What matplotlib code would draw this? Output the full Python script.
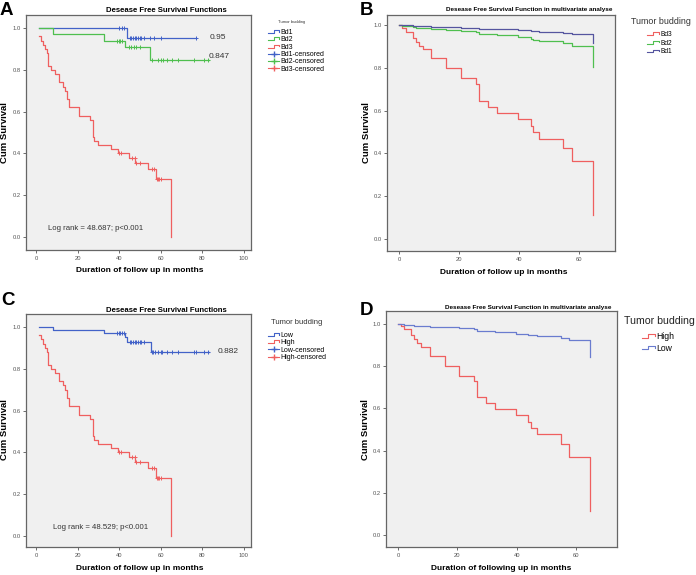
import numpy as np
import matplotlib
matplotlib.use('Agg')
import matplotlib.pyplot as plt
from matplotlib.lines import Line2D
from matplotlib.legend_handler import HandlerBase

plt.rcParams['font.family'] = ['Liberation Sans', 'DejaVu Sans']

# ---- Panel A: Kaplan-Meier by budding grade
a_bd1_t = [1.3, 43.7, 77.0]
a_bd1_s = [1.0, 0.95, 0.95]
a_bd1_cens = [40.0, 41.6, 42.4, 45.1, 45.9, 46.7, 47.5, 48.3, 49.1, 49.9, 50.7,
              52.0, 54.7, 56.6, 60.0, 76.8]
a_bd2_t = [1.3, 8.0, 32.8, 42.9, 55.0, 83.0]
a_bd2_s = [1.0, 0.971, 0.94, 0.907, 0.847, 0.847]
a_bd2_cens = [39.0, 39.8, 40.6, 41.3, 44.8, 45.9, 47.0, 48.3, 49.9, 55.6, 58.8,
              60.0, 61.2, 62.8, 65.2, 68.1, 76.0, 80.8, 82.9]
bd3_t = [1.3, 2.4, 3.5, 4.3, 5.1, 5.9, 7.2, 9.3, 11.2, 12.8, 13.9, 14.9, 16.0,
         20.8, 26.1, 27.2, 28.0, 29.6, 36.0, 39.3, 44.9, 47.6, 54.0, 57.7, 64.9]
bd3_s = [0.96, 0.94, 0.92, 0.90, 0.88, 0.82, 0.80, 0.78, 0.74, 0.72, 0.70, 0.66,
         0.62, 0.58, 0.56, 0.48, 0.46, 0.44, 0.42, 0.40, 0.38, 0.355, 0.325,
         0.276, 0.0]
bd3_cens = [40.0, 40.8, 46.0, 47.4, 48.2, 50.0, 55.6, 56.9, 58.0, 58.6, 59.2, 60.0]

# ---- Panel C: Kaplan-Meier low vs high
c_low_t = [1.3, 8.0, 32.8, 42.8, 44.0, 55.3, 83.0]
c_low_s = [1.0, 0.985, 0.97, 0.95, 0.93, 0.882, 0.882]
c_low_cens = [39.0, 39.8, 40.6, 41.4, 42.2, 45.1, 45.9, 46.7, 47.5, 48.3, 49.1,
              49.9, 50.7, 51.9, 55.6, 56.5, 57.3, 58.8, 60.0, 60.8, 62.8, 65.2,
              68.1, 76.0, 76.9, 80.8, 82.9]
c_high_t = bd3_t
c_high_s = bd3_s
c_high_cens = bd3_cens

# ---- Panel B / D: multivariate (Cox) curves, common step times
cox_t = [0, 1.0, 2.2, 4.5, 5.5, 6.6, 7.9, 10.8, 15.8, 20.7, 25.8, 26.6, 29.7,
         32.7, 39.8, 43.9, 44.8, 46.8, 54.8, 57.8, 64.8]
b_bd3 = [1.0, 0.984, 0.966, 0.941, 0.922, 0.903, 0.886, 0.844, 0.798, 0.751,
         0.723, 0.645, 0.618, 0.587, 0.559, 0.528, 0.498, 0.466, 0.424, 0.364, 0.11]
b_bd2 = [1.0, 0.997, 0.994, 0.99, 0.988, 0.986, 0.984, 0.98, 0.976, 0.972,
         0.968, 0.96, 0.956, 0.953, 0.944, 0.935, 0.932, 0.927, 0.917, 0.903, 0.802]
b_bd1 = [1.0, 0.999, 0.998, 0.997, 0.996, 0.995, 0.994, 0.993, 0.99, 0.988,
         0.986, 0.983, 0.982, 0.981, 0.977, 0.974, 0.972, 0.968, 0.962, 0.958, 0.914]
d_high = [1.0, 0.99, 0.975, 0.947, 0.93, 0.91, 0.89, 0.849, 0.80, 0.756, 0.732,
          0.652, 0.625, 0.597, 0.567, 0.538, 0.507, 0.477, 0.433, 0.37, 0.113]
d_low = [1.0, 0.998, 0.996, 0.994, 0.993, 0.992, 0.99, 0.988, 0.985, 0.98,
         0.976, 0.968, 0.965, 0.961, 0.955, 0.95, 0.946, 0.942, 0.935, 0.923, 0.845]

RED = '#ef5f5f'
GREEN = '#4fbf4f'
BLUE = '#4262c8'
NAVY = '#55559f'
LBLUE = '#6a7ccf'
BG = '#f0f0f0'

W, H = 696, 575
fig = plt.figure(figsize=(W / 100, H / 100), dpi=100)


def px_axes(left, top, right, bottom):
    return fig.add_axes([left / W, 1 - bottom / H, (right - left) / W, (bottom - top) / H])


def ftext(x, y, s, **kw):
    fig.text(x / W, 1 - y / H, s, **kw)


def step_value(ts, ss, t):
    idx = np.searchsorted(ts, t, side='right') - 1
    return np.asarray(ss)[idx]


class StepHandler(HandlerBase):
    # SPSS style step-shaped legend key
    def create_artists(self, legend, orig_handle, xdescent, ydescent, width, height, fontsize, trans):
        x0 = -xdescent
        lo = -ydescent + height * 0.2
        hi = -ydescent + height * 0.8
        xs = [x0, x0 + width * 0.5, x0 + width * 0.5, x0 + width, x0 + width]
        ys = [lo, lo, hi, hi, hi - height * 0.3]
        ln = Line2D(xs, ys, color=orig_handle.get_color(), lw=0.8)
        ln.set_transform(trans)
        return [ln]


def style_axes(ax, xlim, ylim, xticks):
    ax.set_facecolor(BG)
    ax.set_xlim(*xlim)
    ax.set_ylim(*ylim)
    ax.set_xticks(xticks)
    ax.set_yticks([0, 0.2, 0.4, 0.6, 0.8, 1.0])
    ax.set_yticklabels(['%.1f' % v for v in [0, 0.2, 0.4, 0.6, 0.8, 1.0]])
    ax.tick_params(labelsize=4.2, length=2.5, width=0.6, colors='#555555', pad=1.5)
    for sp in ax.spines.values():
        sp.set_color('#666666')
        sp.set_linewidth(0.9)


def km(ax, t, s, cens, color):
    ax.plot(t, s, drawstyle='steps-post', color=color, lw=0.9)
    ax.plot(cens, step_value(t, s, cens), '+', color=color, ms=3.5, mew=0.7, ls='none')


# ---------------- Panel A
axA = px_axes(26, 15, 251, 250)
style_axes(axA, (-4.8, 103.4), (-0.062, 1.062), [0, 20, 40, 60, 80, 100])
km(axA, a_bd1_t, a_bd1_s, a_bd1_cens, BLUE)
km(axA, a_bd2_t, a_bd2_s, a_bd2_cens, GREEN)
km(axA, bd3_t, bd3_s, bd3_cens, RED)
axA.text(83.5, 0.955, '0.95', fontsize=6, color='#333333', va='center')
axA.text(83.0, 0.865, '0.847', fontsize=6, color='#333333', va='center')
axA.text(6, 0.04, 'Log rank = 48.687; p<0.001', fontsize=5.6, color='#333333', va='center')

hA = [Line2D([], [], color=BLUE), Line2D([], [], color=GREEN), Line2D([], [], color=RED),
      Line2D([], [], color=BLUE, marker='+', ms=4, lw=0.8),
      Line2D([], [], color=GREEN, marker='+', ms=4, lw=0.8),
      Line2D([], [], color=RED, marker='+', ms=4, lw=0.8)]
labA = ['Bd1', 'Bd2', 'Bd3', 'Bd1-censored', 'Bd2-censored', 'Bd3-censored']
fig.legend(hA, labA, loc='upper left', bbox_to_anchor=(268 / W, 1 - 29 / H), frameon=False,
           fontsize=5, handlelength=1.6, handletextpad=0.2, labelspacing=0.05, numpoints=1,
           borderaxespad=0, borderpad=0,
           handler_map={hA[0]: StepHandler(), hA[1]: StepHandler(), hA[2]: StepHandler()})
ftext(292, 22, 'Tumor budding', fontsize=3, color='#333333', ha='center', va='center')

ftext(166, 10, 'Desease Free Survival Functions', fontsize=5.6, fontweight='bold', ha='center', va='center')
ftext(140, 270, 'Duration of follow up in months', fontsize=6.0, fontweight='bold', ha='center', va='center')
ftext(5, 133, 'Cum Survival', fontsize=6.8, fontweight='bold', rotation=90, ha='center', va='center')
ftext(0, 15, 'A', fontsize=13.5, fontweight='bold', ha='left', va='baseline')

# ---------------- Panel B
axB = px_axes(387, 15, 615, 251)
style_axes(axB, (-4, 72), (-0.056, 1.047), [0, 20, 40, 60])
axB.plot(cox_t, b_bd3, drawstyle='steps-post', color=RED, lw=0.9)
axB.plot(cox_t, b_bd2, drawstyle='steps-post', color=GREEN, lw=0.9)
axB.plot(cox_t, b_bd1, drawstyle='steps-post', color=NAVY, lw=0.9)
hB = [Line2D([], [], color=RED), Line2D([], [], color=GREEN), Line2D([], [], color=NAVY)]
fig.legend(hB, ['Bd3', 'Bd2', 'Bd1'], loc='upper left', bbox_to_anchor=(647 / W, 1 - 31 / H),
           frameon=False, fontsize=4.8, handlelength=1.8, handletextpad=0.2, labelspacing=0.25,
           borderaxespad=0, borderpad=0, handler_map={h: StepHandler() for h in hB})
ftext(661, 22, 'Tumor budding', fontsize=6.4, color='#333333', ha='center', va='center')
ftext(529, 9, 'Desease Free Survival Function in multivariate analyse', fontsize=4.6,
      fontweight='bold', ha='center', va='center')
ftext(504, 272, 'Duration of follow up in months', fontsize=6.0, fontweight='bold', ha='center', va='center')
ftext(367, 133, 'Cum Survival', fontsize=6.8, fontweight='bold', rotation=90, ha='center', va='center')
ftext(360, 15, 'B', fontsize=13.5, fontweight='bold', ha='left', va='baseline')

# ---------------- Panel C
axC = px_axes(26, 314, 251, 547)
style_axes(axC, (-4.8, 103.4), (-0.053, 1.062), [0, 20, 40, 60, 80, 100])
km(axC, c_low_t, c_low_s, c_low_cens, BLUE)
km(axC, c_high_t, c_high_s, c_high_cens, RED)
axC.text(87.5, 0.882, '0.882', fontsize=6, color='#333333', va='center')
axC.text(8.2, 0.04, 'Log rank = 48.529; p<0.001', fontsize=5.6, color='#333333', va='center')
hC = [Line2D([], [], color=BLUE), Line2D([], [], color=RED),
      Line2D([], [], color=BLUE, marker='+', ms=4, lw=0.8),
      Line2D([], [], color=RED, marker='+', ms=4, lw=0.8)]
fig.legend(hC, ['Low', 'High', 'Low-censored', 'High-censored'], loc='upper left',
           bbox_to_anchor=(268 / W, 1 - 332 / H), frameon=False, fontsize=5, handlelength=1.6,
           handletextpad=0.2, labelspacing=0.05, numpoints=1, borderaxespad=0, borderpad=0,
           handler_map={hC[0]: StepHandler(), hC[1]: StepHandler()})
ftext(297, 323, 'Tumor budding', fontsize=5.5, color='#333333', ha='center', va='center')
ftext(166, 310, 'Desease Free Survival Functions', fontsize=5.6, fontweight='bold', ha='center', va='center')
ftext(140, 569, 'Duration of follow up in months', fontsize=6.0, fontweight='bold', ha='center', va='center')
ftext(5, 430, 'Cum Survival', fontsize=6.8, fontweight='bold', rotation=90, ha='center', va='center')
ftext(1, 305, 'C', fontsize=13.5, fontweight='bold', ha='left', va='baseline')

# ---------------- Panel D
axD = px_axes(386, 311, 617, 547)
style_axes(axD, (-4.0, 73.8), (-0.057, 1.062), [0, 20, 40, 60])
axD.plot(cox_t, d_high, drawstyle='steps-post', color=RED, lw=0.9)
axD.plot(cox_t, d_low, drawstyle='steps-post', color=LBLUE, lw=0.9)
hD = [Line2D([], [], color=RED), Line2D([], [], color=LBLUE)]
fig.legend(hD, ['High', 'Low'], loc='upper left', bbox_to_anchor=(642 / W, 1 - 332 / H),
           frameon=False, fontsize=6.2, handlelength=1.5, handletextpad=0.15, labelspacing=0.3,
           borderaxespad=0, borderpad=0, handler_map={h: StepHandler() for h in hD})
ftext(659, 321, 'Tumor budding', fontsize=7.6, color='#222222', ha='center', va='center')
ftext(528, 308, 'Desease Free Survival Function in multivariate analyse', fontsize=4.6,
      fontweight='bold', ha='center', va='center')
ftext(501, 569, 'Duration of following up in months', fontsize=6.0, fontweight='bold', ha='center', va='center')
ftext(366, 430, 'Cum Survival', fontsize=6.8, fontweight='bold', rotation=90, ha='center', va='center')
ftext(360, 315, 'D', fontsize=13.5, fontweight='bold', ha='left', va='baseline')

fig.savefig('out.png', dpi=100, facecolor='white')
